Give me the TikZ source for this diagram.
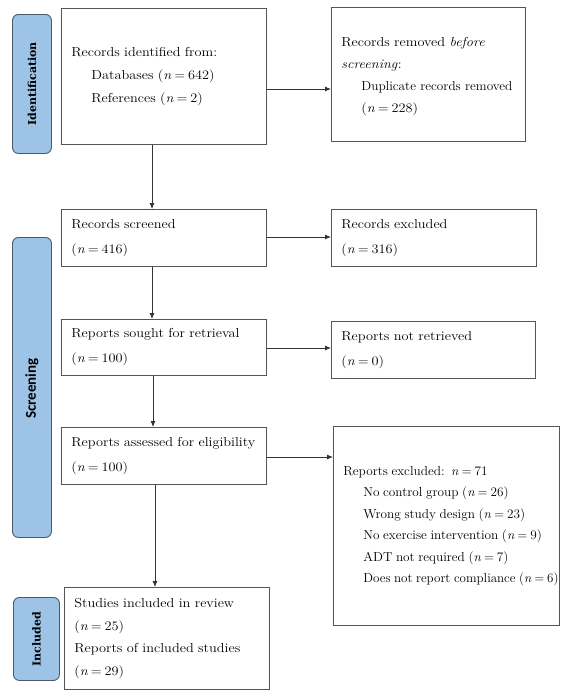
\documentclass[tikz,border=0pt]{standalone}
\usepackage{fontspec}
\setmainfont{lmroman12-regular.otf}[ItalicFont=lmroman12-italic.otf, BoldFont=lmroman12-bold.otf, FakeStretch=1.1]
\newfontfamily\narrowrm{lmroman12-regular.otf}[ItalicFont=lmroman12-italic.otf, BoldFont=lmroman12-bold.otf, FakeStretch=1.02]
\newfontfamily\narrowerrm{lmroman12-regular.otf}[ItalicFont=lmroman12-italic.otf, BoldFont=lmroman12-bold.otf, FakeStretch=1.0]
\newfontfamily\barsans{Carlito}
\newfontfamily\barserif{DejaVu Serif}
\usetikzlibrary{arrows.meta}
\definecolor{boxgray}{HTML}{555555}
\definecolor{linegray}{HTML}{333333}
\definecolor{barfill}{HTML}{9DC3E6}
\definecolor{barline}{HTML}{4A5A6A}
\newcommand\cnt[1]{(\textit{n}\hspace{0.22em}=\hspace{0.22em}#1)}
\newcommand\ind{\hspace*{20pt}}
\newcommand\tightsp{\spaceskip=3.6pt plus 1pt minus 0.5pt\relax}
\begin{document}
\begin{tikzpicture}[x=1pt,y=-1pt,
  box/.style={draw=boxgray, line width=0.8pt, inner xsep=10pt, inner ysep=0pt,
    anchor=north west, align=left, font=\fontsize{13}{23}\selectfont},
  bar/.style={draw=barline, fill=barfill, line width=0.9pt, rounded corners=6pt,
    anchor=north west, inner sep=0pt},
  serlabel/.style={rotate=90, font=\barserif\bfseries\fontsize{11}{13}\selectfont},
  sanlabel/.style={rotate=90, font=\barsans\bfseries\fontsize{15}{17}\selectfont},
  arr/.style={draw=linegray, line width=0.8pt, -{Latex[length=6pt,width=5pt]}}]
\useasboundingbox (0,0) rectangle (568,697);
% side bars
\node[bar, minimum width=39pt, minimum height=139pt] (bid) at (12,14) {};
\node[serlabel] (lid) at (bid.center) {Identification};
\node[bar, minimum width=39pt, minimum height=300pt] (bsc) at (12,237) {};
\node[sanlabel] (lsc) at ([yshift=-1pt]bsc.center) {Screening};
\node[bar, minimum width=46pt, minimum height=83pt] (bin) at (13,597) {};
\node[serlabel] (lin) at (bin.center) {Included};
% boxes
\node[box, text width=185pt, minimum height=136pt] (b1) at (61,8)
 {Records identified from:\\ \ind Databases \cnt{642}\\ \ind References \cnt{2}};
\node[box, text width=174pt, minimum height=134pt, font=\fontsize{13}{22}\selectfont] (b2) at (331,7)
 {\rule{0pt}{14pt}\mbox{Records removed \textit{before}}\\ \textit{screening}:\\ \ind \mbox{\narrowrm Duplicate records removed}\\ \ind \cnt{228}};
\node[box, text width=185pt, minimum height=57pt, font=\fontsize{13}{25}\selectfont] (s1) at (61,209)
 {Records screened\\ \cnt{416}};
\node[box, text width=185pt, minimum height=57pt, font=\fontsize{13}{25}\selectfont] (e1) at (331,209)
 {Records excluded\\ \cnt{316}};
\node[box, text width=185pt, minimum height=56pt, font=\fontsize{13}{25}\selectfont] (s2) at (61,319)
 {\mbox{Reports sought for retrieval}\\ \cnt{100}};
\node[box, text width=184pt, minimum height=57pt, font=\fontsize{13}{25}\selectfont] (e2) at (331,321)
 {Reports not retrieved\\ \cnt{0}};
\node[box, text width=185pt, minimum height=57pt, font=\fontsize{13}{25}\selectfont] (s3) at (61,427)
 {\mbox{Reports assessed for eligibility}\\ \cnt{100}};
\node[box, text width=206pt, minimum height=199pt, font=\narrowrm\fontsize{13}{21.5}\selectfont] (e3) at (333,426)
 {\tightsp\mbox{Reports excluded: \textit{n}\hspace{0.22em}=\hspace{0.22em}71}\\ \ind \mbox{No control group \cnt{26}}\\ \ind \mbox{Wrong study design \cnt{23}}\\ \ind \mbox{No exercise intervention \cnt{9}}\\ \ind \mbox{ADT not required \cnt{7}}\\ \ind \mbox{\narrowerrm\tightsp Does not report compliance \cnt{6}}};
\node[box, text width=185pt, minimum height=102pt, font=\fontsize{13}{22.5}\selectfont] (inc) at (64,587)
 {\mbox{Studies included in review}\\ \cnt{25}\\ \mbox{Reports of included studies}\\ \cnt{29}};
% connector x positions
\coordinate (xa) at (152,0);
\coordinate (xb) at (153,0);
\coordinate (xc) at (155,0);
\draw[arr] (b1.south -| xa) -- (s1.north -| xa);
\draw[arr] (s1.south -| xa) -- (s2.north -| xa);
\draw[arr] (s2.south -| xb) -- (s3.north -| xb);
\draw[arr] (s3.south -| xc) -- (inc.north -| xc);
\coordinate (ya) at (0,89);
\coordinate (yb) at (0,237);
\coordinate (yc) at (0,348);
\coordinate (yd) at (0,457);
\draw[arr] (b1.east |- ya) -- (b2.west |- ya);
\draw[arr] (s1.east |- yb) -- (e1.west |- yb);
\draw[arr] (s2.east |- yc) -- (e2.west |- yc);
\draw[arr] (s3.east |- yd) -- (e3.west |- yd);
\end{tikzpicture}
\end{document}
